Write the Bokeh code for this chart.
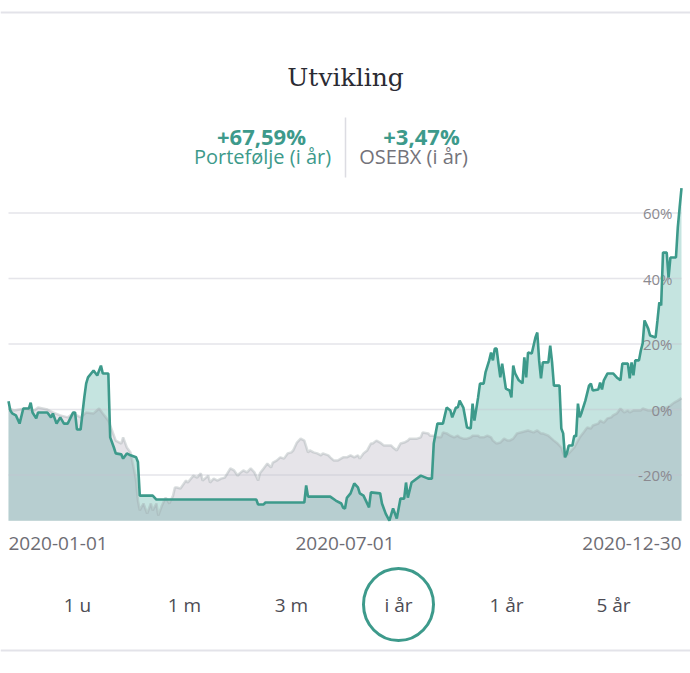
import numpy as np
import pandas as pd
from bokeh.plotting import figure
from bokeh.models import Range1d
from bokeh.core.properties import value
from bokeh.embed import file_html
from bokeh.resources import INLINE

# ---------------- data ----------------
BASE_DATE = "2020-01-01"

portfolio_day = [0, 1, 2, 4, 6, 8, 11, 12, 13, 15, 16, 21, 23, 24, 26, 28, 30, 32, 35, 36, 37, 39,
                 41, 42, 43, 46, 48, 50, 51, 54, 55, 57, 58, 61, 62, 64, 66, 69, 70, 71, 78, 80,
                 134, 135, 138, 139, 160, 161, 162, 174, 177, 180, 181, 182, 183, 185, 187, 189,
                 190, 192, 195, 196, 201, 202, 204, 206, 208, 210, 212, 214, 215, 216, 218, 223,
                 227, 229, 230, 232, 235, 236, 237, 239, 240, 242, 243, 244, 246, 248, 250, 251,
                 252, 254, 255, 257, 258, 260, 261, 262, 263, 264, 265, 266, 267, 269, 271, 272,
                 273, 274, 276, 278, 279, 280, 281, 283, 285, 286, 287, 288, 289, 292, 293, 294,
                 295, 298, 299, 300, 301, 302, 303, 305, 306, 307, 308, 309, 310, 312, 314, 315,
                 316, 319, 320, 321, 322, 324, 327, 329, 331, 332, 335, 336, 337, 338, 339, 341,
                 342, 343, 344, 346, 347, 350, 351, 352, 353, 354, 356, 357, 358, 361, 362, 363, 364]
portfolio_pct = [2.5, -0.3, -1.2, -1.8, -4.3, 0.3, 0.3, 2.1, -0.9, -2.7, -0.9, -0.9, -2.4, -1.2, -4.3,
                 -2.4, -4.3, -4.3, -0.9, -0.9, -6.1, -6.1, 3.7, 7.9, 9.8, 11.9, 10.4, 13.4, 11.0, 11.0,
                 -8.5, -11.6, -13.4, -13.7, -15.0, -13.4, -14.0, -14.6, -16.0, -26.3, -26.3, -27.5,
                 -27.5, -29.0, -29.0, -28.4, -28.4, -23.2, -26.6, -26.6, -27.8, -28.7, -30.0, -30.2,
                 -27.0, -25.6, -22.6, -23.8, -25.6, -26.3, -29.9, -25.3, -25.6, -28.7, -31.8, -33.9,
                 -30.2, -33.3, -27.2, -27.2, -22.3, -26.9, -22.3, -20.2, -21.1, -21.1, -10.4, -4.3,
                 -4.3, -1.8, 0.6, -0.3, -2.4, 0.6, 0.6, 2.7, 0.6, -5.5, -5.8, 1.8, -3.4, 3.7, 7.9, 7.9,
                 11.3, 15.0, 17.4, 15.0, 18.6, 18.6, 14.0, 9.8, 14.0, 6.4, 5.8, 3.7, 13.4, 11.0, 8.9,
                 8.0, 15.9, 9.8, 17.4, 17.1, 22.0, 23.5, 15.0, 9.5, 14.4, 14.4, 19.5, 14.4, 7.3, 7.3,
                 -5.8, -7.3, -14.6, -13.4, -11.0, -11.0, -8.0, -8.2, 1.8, -2.4, -0.9, 2.7, 7.3, 7.9,
                 5.8, 6.1, 8.2, 6.1, 8.9, 11.0, 11.0, 9.8, 8.9, 14.0, 14.0, 9.5, 14.4, 10.4, 15.0,
                 15.0, 18.0, 20.2, 27.2, 24.7, 22.6, 22.0, 27.2, 32.7, 31.8, 47.9, 47.9, 40.3, 46.4,
                 46.4, 55.6, 61.7, 67.59]

osebx_day = [0, 3, 9, 14, 16, 21, 24, 28, 32, 35, 39, 42, 46, 49, 51, 54, 56, 58, 61, 62, 64, 66, 68,
             69, 70, 71, 73, 75, 77, 78, 80, 81, 83, 85, 87, 89, 90, 91, 93, 96, 97, 100, 102, 104,
             105, 108, 109, 111, 113, 115, 117, 120, 122, 124, 125, 127, 129, 131, 133, 135, 136,
             138, 140, 142, 143, 145, 147, 149, 151, 153, 154, 156, 158, 160, 162, 163, 165, 167,
             169, 170, 173, 174, 176, 178, 181, 183, 185, 187, 189, 190, 192, 194, 196, 197, 199,
             201, 203, 207, 208, 210, 212, 214, 216, 217, 221, 223, 224, 227, 228, 230, 232, 234,
             235, 237, 239, 241, 243, 244, 246, 248, 250, 251, 254, 255, 257, 259, 261, 262, 264,
             266, 268, 270, 271, 273, 275, 277, 281, 284, 286, 288, 289, 292, 293, 295, 297, 299,
             300, 301, 303, 306, 308, 309, 311, 313, 315, 316, 319, 320, 322, 324, 326, 327, 329,
             331, 333, 335, 336, 338, 342, 343, 346, 349, 351, 354, 356, 358, 360, 362, 364]
osebx_pct = [0.3, -0.3, 0.3, -0.3, 0.6, 0.0, -0.9, -1.8, -2.4, -1.2, -2.4, -0.9, -1.2, 0.3, -1.2, -3.4,
             -6.4, -9.5, -10.4, -8.5, -11.6, -13.1, -18.6, -21.7, -27.8, -30.8, -28.7, -31.8, -28.7,
             -30.8, -28.7, -32.4, -29.3, -26.9, -28.7, -26.3, -23.8, -23.8, -24.1, -21.7, -22.3,
             -20.2, -20.8, -19.5, -21.7, -20.2, -22.3, -21.1, -21.7, -21.1, -20.8, -18.0, -18.6,
             -20.2, -19.5, -18.6, -19.2, -18.0, -19.2, -21.7, -19.5, -18.0, -16.5, -17.7, -16.2,
             -15.6, -14.6, -15.0, -13.4, -13.1, -12.5, -10.1, -8.9, -9.5, -13.1, -12.5, -13.1,
             -13.4, -14.0, -13.4, -14.0, -14.6, -15.6, -15.6, -14.6, -14.6, -14.0, -14.6, -14.0,
             -15.0, -13.4, -12.5, -10.4, -10.4, -9.5, -10.1, -11.0, -11.0, -11.6, -12.5, -10.4,
             -10.1, -9.5, -8.9, -8.9, -8.5, -7.0, -7.3, -8.0, -8.0, -8.5, -8.5, -7.0, -7.3, -8.0,
             -8.5, -8.0, -8.5, -8.9, -8.9, -8.5, -8.0, -8.0, -8.5, -8.5, -8.0, -8.5, -9.5, -10.4,
             -10.1, -8.9, -9.5, -9.5, -8.9, -7.3, -7.0, -6.4, -7.0, -6.4, -7.3, -7.3, -8.0, -8.5,
             -9.5, -10.4, -11.6, -13.4, -14.6, -13.4, -11.6, -9.5, -8.5, -7.0, -5.5, -5.8, -4.9,
             -4.3, -3.4, -4.0, -2.7, -2.4, -1.8, -1.2, 0.3, -0.9, -0.3, -0.9, -0.3, -0.3, 0.3,
             -0.3, -0.3, 0.3, 0.3, 0.6, 1.2, 2.1, 2.7, 3.47]

y_ticks = [-20, 0, 20, 40, 60]
y_tick_labels = ["-20%", "0%", "20%", "40%", "60%"]
x_label_dates = ["2020-01-01", "2020-07-01", "2020-12-30"]
x_label_align = ["left", "center", "right"]
periods = ["1 u", "1 m", "3 m", "i år", "1 år", "5 år"]
selected_period = "i år"
title_text = "Utvikling"
portfolio_return = "+67,59%"
portfolio_name = "Portefølje (i år)"
osebx_return = "+3,47%"
osebx_name = "OSEBX (i år)"
CHART_FLOOR = -34.0

# ---------------- page <-> data mapping ----------------
DAY_MS = 86400000.0
base_ms = pd.Timestamp(BASE_DATE).value / 1e6
PX_PER_DAY = (681 - 8) / 364.0
ZERO_Y = 409.0
PX_PER_PCT = 3.275
W, H = 690, 673

def px_x(xp):
    return base_ms + (xp - 8) / PX_PER_DAY * DAY_MS

def px_y(yp):
    return (ZERO_Y - yp) / PX_PER_PCT

def date_ms(s):
    return pd.Timestamp(s).value / 1e6

p_x = base_ms + np.array(portfolio_day, dtype=float) * DAY_MS
o_x = base_ms + np.array(osebx_day, dtype=float) * DAY_MS

p = figure(width=W, height=H, output_backend="svg", toolbar_location=None, title=None,
           x_axis_location=None, y_axis_location=None,
           x_range=Range1d(px_x(0), px_x(W)), y_range=Range1d(px_y(H), px_y(0)),
           min_border=0, min_border_left=0, min_border_right=0, min_border_top=0,
           min_border_bottom=0)
p.outline_line_color = None
p.background_fill_color = "white"
p.border_fill_color = "white"
for g in p.grid:
    g.visible = False

GREEN = "#3d9a8b"
FONT = value("Open Sans")

# page separators
p.hspan(y=[px_y(12), px_y(650)], line_color="#e3e3e9", line_width=2)

# title and stats
p.text(x=[px_x(345)], y=[px_y(77)], text=[title_text], text_align="center",
       text_baseline="alphabetic", text_font=value("DejaVu Serif"), text_font_size="25px",
       text_color="#2b2b33")
p.text(x=[px_x(261)], y=[px_y(135)], text=[portfolio_return], text_align="center",
       text_baseline="alphabetic", text_font=FONT, text_font_style="bold",
       text_font_size="22px", text_color=GREEN)
p.text(x=[px_x(262)], y=[px_y(156)], text=[portfolio_name], text_align="center",
       text_baseline="alphabetic", text_font=FONT, text_font_size="20px", text_color=GREEN)
p.text(x=[px_x(421)], y=[px_y(135)], text=[osebx_return], text_align="center",
       text_baseline="alphabetic", text_font=FONT, text_font_style="bold",
       text_font_size="22px", text_color=GREEN)
p.text(x=[px_x(413)], y=[px_y(156)], text=[osebx_name], text_align="center",
       text_baseline="alphabetic", text_font=FONT, text_font_size="20px", text_color="#74737a")
p.segment(x0=[px_x(345)], y0=[px_y(117)], x1=[px_x(345)], y1=[px_y(177)],
          line_color="#dcdce2", line_width=1.5)

# fills
p.varea(x=p_x, y1=CHART_FLOOR, y2=portfolio_pct, fill_color="#c5e4e0")
p.varea(x=o_x, y1=CHART_FLOOR, y2=osebx_pct, fill_color=(124, 113, 139), fill_alpha=0.19)

# gridlines (only across the chart)
p.segment(x0=[px_x(8)] * len(y_ticks), y0=y_ticks, x1=[px_x(681)] * len(y_ticks), y1=y_ticks,
          line_color="#c6c6d0", line_alpha=0.45, line_width=1.5)

# osebx line
p.line(o_x, osebx_pct, line_color="#9fa7ab", line_alpha=0.38, line_width=2.5)

# y tick labels
p.text(x=[px_x(672)] * len(y_ticks), y=y_ticks, text=y_tick_labels, text_align="right",
       text_baseline="middle", text_font=FONT, text_font_size="15px", text_color="#8b8a90")

# portfolio line
p.line(p_x, portfolio_pct, line_color=GREEN, line_width=2.6)

# x labels
p.text(x=[date_ms(d) for d in x_label_dates], y=[px_y(543)] * 3, text=x_label_dates,
       text_align=x_label_align, text_baseline="middle", text_font=FONT,
       text_font_size="19px", text_color="#6e6d74")

# period selector
period_x = [77, 184, 291, 398, 506, 613]
p.text(x=[px_x(v) for v in period_x], y=[px_y(604)] * len(periods), text=periods,
       text_align="center", text_baseline="middle", text_font=FONT,
       text_font_size="19px", text_color="#4d4c54")
sel = periods.index(selected_period)
p.ellipse(x=[px_x(period_x[sel])], y=[px_y(604)], width=70, height=72,
          width_units="screen", height_units="screen",
          fill_color=None, line_color=GREEN, line_width=3)

open("out.html", "w").write(file_html(p, INLINE))
